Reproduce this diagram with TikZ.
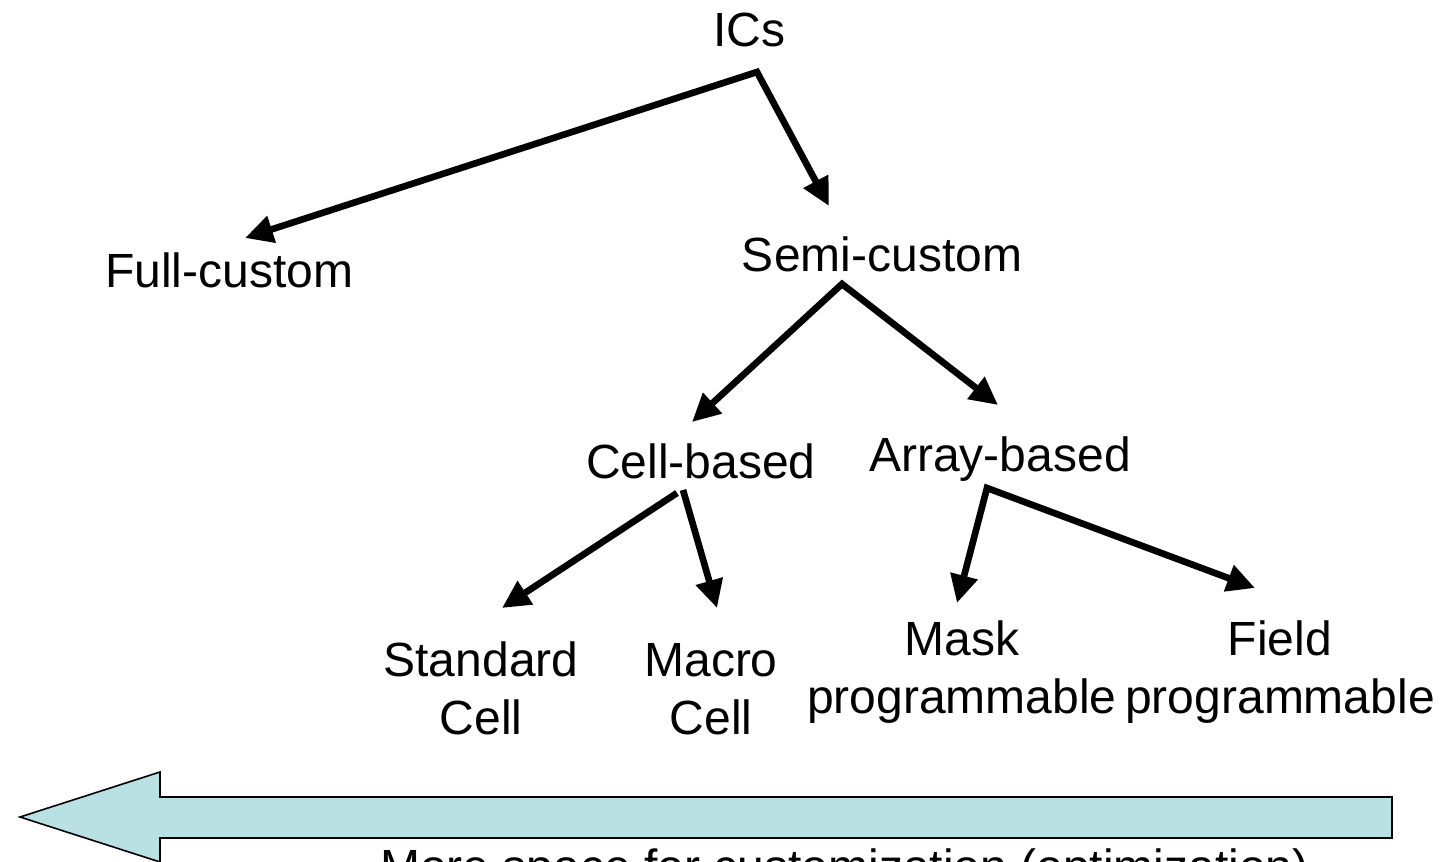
\documentclass[tikz,border=0pt]{standalone}
\usepackage{fontspec}
\setmainfont{Liberation Sans}
\usetikzlibrary{arrows.meta}
\definecolor{arrowfill}{RGB}{185,224,227}
\begin{document}
\begin{tikzpicture}[x=0.75pt,y=-0.75pt,
  lbl/.style={inner sep=0pt, font=\fontsize{36}{43}\selectfont, align=center},
  link/.style={line width=5pt, line join=miter, -{Triangle[length=21pt,width=20pt]}},
  dlink/.style={line width=5pt, line join=miter,
    {Triangle[length=21pt,width=20pt]}-{Triangle[length=21pt,width=20pt]}},
  bigarrow/.style={fill=arrowfill, draw=black, line width=1.2pt, line join=miter}]
\useasboundingbox (0,0) rectangle (1455,862);
\clip (0,0) rectangle (1455,862);

% labels of the hierarchy (two-line labels are placed by their last baseline)
\node[lbl, anchor=base] (ics) at (749,47) {ICs};
\node[lbl, anchor=base west] (full) at (105,288) {Full-custom};
\node[lbl, anchor=base] (semi) at (882,272) {Semi-custom};
\node[lbl, anchor=base] (cell) at (701,478) {Cell-based};
\node[lbl, anchor=base] (array) at (1000,471) {Array-based};
\node[lbl, anchor=base] (std) at (481,734) {Standard\\Cell};
\node[lbl, anchor=base] (macro) at (711,734) {Macro\\Cell};
\node[lbl, anchor=base] (mask) at (962,713) {Mask\\programmable};
\node[lbl, anchor=base] (field) at (1280,713) {Field\\programmable};

% branch points and arrow tips
\coordinate (icsj) at (757,72);
\coordinate (fullt) at (245,238);
\coordinate (semit) at (829,206);
\coordinate (semij) at (842,284);
\coordinate (cellt) at (692,422);
\coordinate (arrayt) at (998,405);
\coordinate (cellja) at (677,493);
\coordinate (celljb) at (683,490);
\coordinate (stdt) at (502,608);
\coordinate (macrot) at (717,608);
\coordinate (arrayj) at (987,488);
\coordinate (maskt) at (957,603);
\coordinate (fieldt) at (1255,588);

\draw[dlink] (fullt) -- (icsj) -- (semit);
\draw[dlink] (cellt) -- (semij) -- (arrayt);
\draw[link] (cellja) -- (stdt);
\draw[link] (celljb) -- (macrot);
\draw[dlink] (maskt) -- (arrayj) -- (fieldt);

% wide block arrow along the bottom
\draw[bigarrow] (20,817) -- (160,772) -- (160,797) -- (1392,797)
  -- (1392,838) -- (160,838) -- (160,862) -- cycle;
\node[lbl, anchor=base west] (note) at (380,883) {More space for customization (optimization)};
\end{tikzpicture}
\end{document}
